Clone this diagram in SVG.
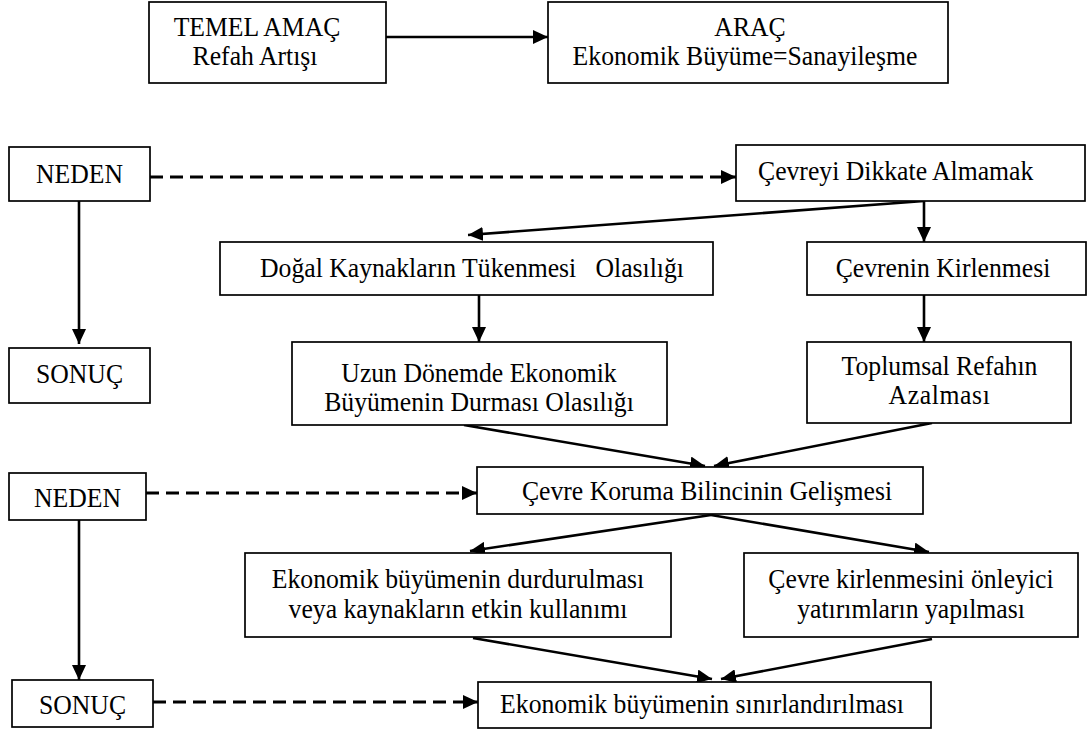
<svg xmlns="http://www.w3.org/2000/svg" width="1089" height="733" viewBox="0 0 1089 733">
<defs>
<marker id="ah" markerUnits="userSpaceOnUse" markerWidth="15" markerHeight="14" refX="15" refY="7" orient="auto">
<path d="M0,0 L15,7 L0,14 Z" fill="#000"/>
</marker>
<style>
.box{fill:#fff;stroke:#000;stroke-width:1.7}
.t{font-family:"Liberation Serif","Times New Roman",serif;font-size:25.7px;fill:#000;text-anchor:middle}
.s{fill:none;stroke:#000;stroke-width:2.6;marker-end:url(#ah)}
.d{fill:none;stroke:#000;stroke-width:2.8;stroke-dasharray:13 7;marker-end:url(#ah)}
</style>
</defs>
<rect width="1089" height="733" fill="#fff"/>
<g id="connectors">
<line class="s" x1="386" y1="37" x2="548" y2="37"/>
<line class="d" x1="150" y1="177" x2="736" y2="177"/>
<line class="s" x1="924" y1="201" x2="468" y2="235"/>
<line class="s" x1="924" y1="201" x2="924" y2="242"/>
<line class="s" x1="479" y1="295" x2="479" y2="342"/>
<line class="s" x1="924" y1="295" x2="924" y2="342"/>
<line class="s" x1="79" y1="201" x2="79" y2="344"/>
<line class="s" x1="464" y1="425" x2="705" y2="466"/>
<line class="s" x1="932" y1="423" x2="714" y2="466"/>
<line class="d" x1="146" y1="493" x2="477" y2="493"/>
<line class="s" x1="711" y1="515" x2="470" y2="551"/>
<line class="s" x1="711" y1="515" x2="929" y2="552"/>
<line class="s" x1="79" y1="520" x2="79" y2="680"/>
<line class="s" x1="473" y1="638" x2="712" y2="679"/>
<line class="s" x1="932" y1="639" x2="721" y2="679"/>
<line class="d" x1="153" y1="702" x2="478" y2="702"/>
</g>
<g id="temel">
<rect class="box" x="149" y="2" width="237" height="81"/>
<text class="t" transform="translate(257 36) scale(1 1.1)">TEMEL AMAÇ</text>
<text class="t" transform="translate(255 65) scale(1 1.1)">Refah Artışı</text>
</g>
<g id="arac">
<rect class="box" x="548" y="2" width="400" height="81"/>
<text class="t" transform="translate(750 36) scale(1 1.1)">ARAÇ</text>
<text class="t" transform="translate(745 65) scale(1 1.1)">Ekonomik Büyüme=Sanayileşme</text>
</g>
<g id="neden1">
<rect class="box" x="9" y="147" width="141" height="54"/>
<text class="t" transform="translate(79.5 183) scale(1 1.1)">NEDEN</text>
</g>
<g id="cevreyi">
<rect class="box" x="736" y="145" width="349" height="56"/>
<text class="t" transform="translate(758 180) scale(1 1.1)" style="text-anchor:start">Çevreyi Dikkate Almamak</text>
</g>
<g id="dogal">
<rect class="box" x="220" y="242" width="493" height="53"/>
<text class="t" transform="translate(472 277) scale(1 1.1)" xml:space="preserve" style="white-space:pre">Doğal Kaynakların Tükenmesi   Olasılığı</text>
</g>
<g id="cevrenin">
<rect class="box" x="807" y="242" width="279" height="53"/>
<text class="t" transform="translate(943 277) scale(1 1.1)">Çevrenin Kirlenmesi</text>
</g>
<g id="sonuc1">
<rect class="box" x="9" y="348" width="141" height="55"/>
<text class="t" transform="translate(79.5 383) scale(1 1.1)">SONUÇ</text>
</g>
<g id="uzun">
<rect class="box" x="292" y="342" width="375" height="83"/>
<text class="t" transform="translate(479 382) scale(1 1.1)">Uzun Dönemde Ekonomik</text>
<text class="t" transform="translate(479 411) scale(1 1.1)">Büyümenin Durması Olasılığı</text>
</g>
<g id="toplumsal">
<rect class="box" x="807" y="342" width="264" height="81"/>
<text class="t" transform="translate(939.5 375) scale(1 1.1)">Toplumsal Refahın</text>
<text class="t" transform="translate(939.5 404) scale(1 1.1)" style="letter-spacing:0.6px">Azalması</text>
</g>
<g id="neden2">
<rect class="box" x="9" y="473" width="137" height="47"/>
<text class="t" transform="translate(77.5 507) scale(1 1.1)">NEDEN</text>
</g>
<g id="koruma">
<rect class="box" x="477" y="467" width="446" height="47"/>
<text class="t" transform="translate(707 500) scale(1 1.1)">Çevre Koruma Bilincinin Gelişmesi</text>
</g>
<g id="durdurulmasi">
<rect class="box" x="245" y="553" width="426" height="84"/>
<text class="t" transform="translate(458 588) scale(1 1.1)">Ekonomik büyümenin durdurulması</text>
<text class="t" transform="translate(458 618) scale(1 1.1)">veya kaynakların etkin kullanımı</text>
</g>
<g id="onleyici">
<rect class="box" x="744" y="553" width="334" height="84"/>
<text class="t" transform="translate(911 588) scale(1 1.1)">Çevre kirlenmesini önleyici</text>
<text class="t" transform="translate(911 618) scale(1 1.1)">yatırımların yapılması</text>
</g>
<g id="sonuc2">
<rect class="box" x="12" y="680" width="141" height="47"/>
<text class="t" transform="translate(82.5 714) scale(1 1.1)">SONUÇ</text>
</g>
<g id="sinirlandirilmasi">
<rect class="box" x="478" y="682" width="453" height="46"/>
<text class="t" transform="translate(702 713) scale(1 1.1)">Ekonomik büyümenin sınırlandırılması</text>
</g>
</svg>
